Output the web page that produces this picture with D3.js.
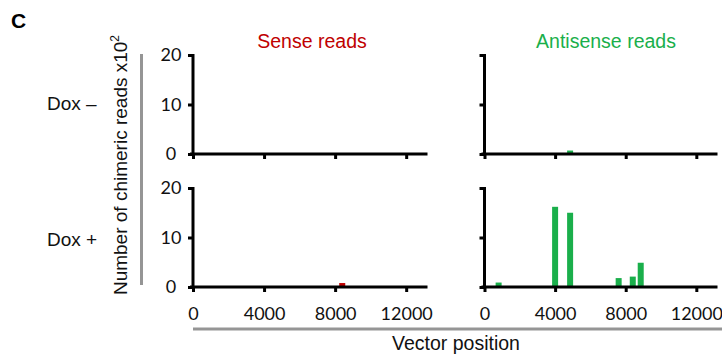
<!DOCTYPE html>
<html><head><meta charset="utf-8">
<script src="https://cdn.jsdelivr.net/npm/d3@7"></script>
<style>body{margin:0;background:#fff}svg{display:block}</style>
</head><body>
<script>
// Data
const xTicks = [0, 4000, 8000, 12000];
const yTicks = [0, 10, 20];
const rowLabels = ["Dox \u2013", "Dox +"];
const colTitles = ["Sense reads", "Antisense reads"];
const senseDoxMinusPos = [];
const senseDoxMinusVal = [];
const senseDoxPlusPos = [8400];
const senseDoxPlusVal = [0.8];
const antiDoxMinusPos = [4850];
const antiDoxMinusVal = [0.7];
const antiDoxPlusPos = [800, 4000, 4850, 7600, 8400, 8850];
const antiDoxPlusVal = [0.9, 16.2, 15.0, 1.8, 2.1, 4.9];

const W = 722, H = 354;
const svg = d3.select("body").append("svg").attr("width", W).attr("height", H);
const tickFont = "Lato, 'Open Sans', sans-serif";
const textFont = "'Liberation Sans', Arial, sans-serif";
const red = "#c00000", green = "#1aaf4b";

const cols = [[193, 427.5], [484.5, 717.5]];
const rows = [[154, 55], [287, 188]];
const panels = [
  {c:0, r:0, pos:senseDoxMinusPos, val:senseDoxMinusVal, color:red},
  {c:0, r:1, pos:senseDoxPlusPos, val:senseDoxPlusVal, color:red},
  {c:1, r:0, pos:antiDoxMinusPos, val:antiDoxMinusVal, color:green},
  {c:1, r:1, pos:antiDoxPlusPos, val:antiDoxPlusVal, color:green},
];
const binHalf = 170;

panels.forEach(p => {
  const x = d3.scaleLinear().domain([0, 13200]).range(cols[p.c]);
  const y = d3.scaleLinear().domain([0, 20]).range(rows[p.r]);
  const g = svg.append("g");
  // bars
  g.selectAll("rect").data(p.pos.map((d, i) => ({pos:d, v:p.val[i]}))).join("rect")
    .attr("x", d => x(d.pos - binHalf))
    .attr("width", d => x(d.pos + binHalf) - x(d.pos - binHalf))
    .attr("y", d => y(d.v))
    .attr("height", d => y(0) - y(d.v))
    .attr("fill", p.color);
  // x axis
  const xa = g.append("g").attr("transform", `translate(0,${y(0)})`)
    .call(d3.axisBottom(x).tickValues(xTicks).tickSize(5).tickSizeOuter(0).tickFormat(p.r === 1 ? d3.format("d") : ""));
  xa.select(".domain").attr("stroke", "#000").attr("stroke-width", 3).attr("d", `M${x.range()[0]-3},0H${x.range()[1]}`);
  xa.selectAll(".tick line").attr("stroke", "#000").attr("stroke-width", 3);
  xa.selectAll(".tick text").attr("font-family", tickFont).attr("font-size", 18).attr("fill", "#111").attr("y", 15).attr("dy", "1em");
  // y axis
  const ya = g.append("g").attr("transform", `translate(${x(0)},0)`)
    .call(d3.axisLeft(y).tickValues(yTicks).tickSize(5).tickSizeOuter(0).tickFormat(p.c === 0 ? d3.format("d") : ""));
  ya.select(".domain").attr("stroke", "#000").attr("stroke-width", 3).attr("d", `M0,${y(20)-1}V${y(0)}`);
  ya.selectAll(".tick line").attr("stroke", "#000").attr("stroke-width", 3);
  ya.selectAll(".tick text").attr("font-family", tickFont).attr("font-size", 18).attr("fill", "#111")
    .attr("x", -22).attr("text-anchor", "middle");
});

// column titles
svg.append("text").attr("x", 312).attr("y", 48).attr("text-anchor", "middle")
  .attr("font-family", textFont).attr("font-size", 19.5).attr("fill", red).text(colTitles[0]);
svg.append("text").attr("x", 606).attr("y", 48).attr("text-anchor", "middle")
  .attr("font-family", textFont).attr("font-size", 19.5).attr("fill", green).text(colTitles[1]);

// row labels
svg.append("text").attr("x", 47).attr("y", 110).attr("font-family", textFont).attr("font-size", 19).attr("fill", "#111").text(rowLabels[0]);
svg.append("text").attr("x", 47).attr("y", 246).attr("font-family", textFont).attr("font-size", 19).attr("fill", "#111").text(rowLabels[1]);

// panel letter
svg.append("text").attr("x", 11).attr("y", 28).attr("font-family", textFont).attr("font-size", 21).attr("font-weight", "bold").text("C");

// gray bracket lines
svg.append("line").attr("x1", 141.5).attr("x2", 141.5).attr("y1", 54).attr("y2", 285).attr("stroke", "#959595").attr("stroke-width", 3);
svg.append("line").attr("x1", 193).attr("x2", 722).attr("y1", 329).attr("y2", 329).attr("stroke", "#959595").attr("stroke-width", 3);

// axis titles
const yt = svg.append("text").attr("transform", "translate(127,165) rotate(-90)").attr("text-anchor", "middle")
  .attr("font-family", textFont).attr("font-size", 19).attr("fill", "#111");
yt.append("tspan").text("Number of chimeric reads  x10");
yt.append("tspan").attr("dy", -8).attr("font-size", 12).text("2");
svg.append("text").attr("x", 456).attr("y", 350).attr("text-anchor", "middle")
  .attr("font-family", textFont).attr("font-size", 19.5).attr("fill", "#111").text("Vector position");
</script>
</body></html>
